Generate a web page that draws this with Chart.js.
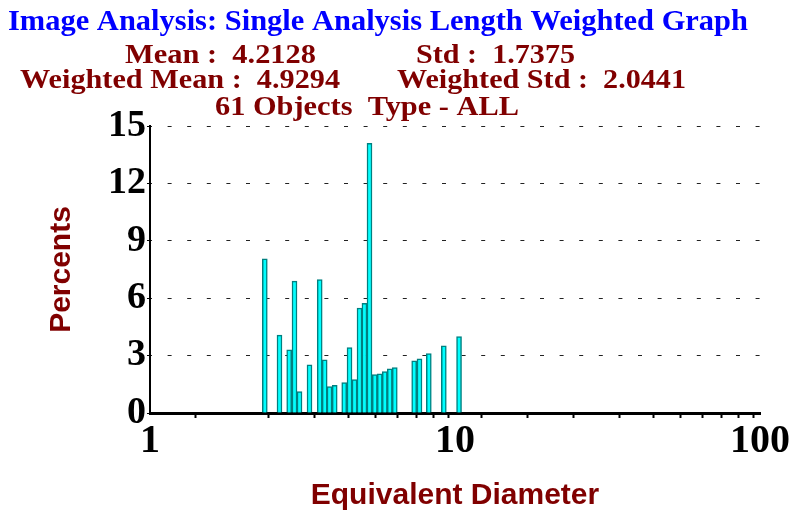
<!DOCTYPE html>
<html>
<head>
<meta charset="utf-8">
<script src="https://cdn.jsdelivr.net/npm/chart.js@4"></script>
<style>
  html, body { margin: 0; padding: 0; background: #fff; }
  canvas { display: block; }
</style>
</head>
<body>
<canvas id="chart" width="793" height="512"></canvas>
<script>
// Bin centres (equivalent diameter) and percent of total length
const diameters = [2.379, 2.658, 2.860, 2.977, 3.092, 3.334, 3.601, 3.739, 3.878, 4.033,
                   4.333, 4.510, 4.684, 4.863, 5.047, 5.244, 5.458, 5.668, 5.886, 6.112,
                   6.347, 7.348, 7.649, 8.206, 9.191, 10.31];
const percents = [8.06, 4.07, 3.30, 6.89, 1.12, 2.52, 6.97, 2.78, 1.38, 1.45,
                  1.59, 3.42, 1.75, 5.49, 5.73, 14.09, 2.01, 2.05, 2.17, 2.31,
                  2.38, 2.73, 2.83, 3.11, 3.51, 3.99];
const xLabels = [1, 10, 100];
const yTicks = [0, 3, 6, 9, 12, 15];

const titleText = 'Image Analysis: Single Analysis Length Weighted Graph';
const statLines = [
  ['Mean :  4.2128', 'Std :  1.7375'],
  ['Weighted Mean :  4.9294', 'Weighted Std :  2.0441'],
  ['61 Objects  Type - ALL']
];

// header text, squeezed to the widths seen in the original
const headerPlugin = {
  id: 'header',
  beforeDraw(chart) {
    const ctx = chart.ctx;
    ctx.save();
    ctx.fillStyle = '#fff';
    ctx.fillRect(0, 0, chart.width, chart.height);
    ctx.restore();
  },
  afterDraw(chart) {
    const ctx = chart.ctx;
    const pieces = [
      [titleText, 8, 748, 30, 29, '#0000ff'],
      [statLines[0][0], 125, 316, 63, 28, '#800000'],
      [statLines[0][1], 416, 575, 63, 28, '#800000'],
      [statLines[1][0], 20, 340, 88, 28, '#800000'],
      [statLines[1][1], 397, 686, 88, 28, '#800000'],
      [statLines[2][0], 215, 519, 115, 28, '#800000']
    ];
    pieces.forEach(([text, x0, x1, base, size, color]) => {
      ctx.save();
      ctx.font = 'bold ' + size + 'px "Liberation Serif", "Times New Roman", serif';
      ctx.fillStyle = color;
      ctx.textBaseline = 'alphabetic';
      ctx.textAlign = 'left';
      const w = ctx.measureText(text).width;
      ctx.translate(x0, base);
      ctx.scale((x1 - x0) / w, 1);
      ctx.fillText(text, 0, 0);
      ctx.restore();
    });
  }
};

new Chart(document.getElementById('chart').getContext('2d'), {
  type: 'bar',
  data: {
    datasets: [{
      data: diameters.map((d, i) => ({ x: d, y: percents[i] })),
      backgroundColor: '#00ffff',
      borderColor: '#008080',
      borderWidth: 1.5,
      barThickness: 5
    }]
  },
  options: {
    responsive: false,
    animation: false,
    layout: { padding: { top: 126, right: 33, left: 0, bottom: 0 } },
    plugins: { legend: { display: false }, tooltip: { enabled: false } },
    scales: {
      x: {
        type: 'logarithmic',
        min: 1,
        max: 100,
        afterFit(scale) { scale.height = 99; },
        border: { color: '#000', width: 3 },
        grid: { drawOnChartArea: false, drawTicks: true, tickLength: 5, tickWidth: 2, tickColor: '#000' },
        ticks: {
          autoSkip: false,
          maxRotation: 0,
          padding: 0,
          color: '#000',
          font: { family: '"Liberation Serif", "Times New Roman", serif', weight: 'bold', size: 40 },
          callback: v => xLabels.includes(v) ? String(v) : ''
        },
        title: {
          display: true,
          text: 'Equivalent Diameter',
          color: '#800000',
          padding: { top: 0, bottom: 0 },
          font: { family: '"Liberation Sans", Arial, sans-serif', weight: 'bold', size: 30, lineHeight: 1.1 }
        }
      },
      y: {
        min: 0,
        max: 15,
        afterFit(scale) { scale.width = 150; },
        afterBuildTicks(scale) { scale.ticks = yTicks.map(v => ({ value: v })); },
        border: { color: '#000', width: 2, dash: [4, 15.6], dashOffset: 3 },
        grid: {
          color: ctx => ctx.tick && ctx.tick.value === 0 ? 'rgba(0,0,0,0)' : '#222',
          lineWidth: 1,
          drawTicks: true,
          tickLength: 3,
          tickColor: '#000'
        },
        ticks: {
          padding: 1,
          color: '#000',
          font: { family: '"Liberation Serif", "Times New Roman", serif', weight: 'bold', size: 38 }
        },
        title: {
          display: true,
          text: 'Percents',
          color: '#800000',
          padding: { top: 44, bottom: 0 },
          font: { family: '"Liberation Sans", Arial, sans-serif', weight: 'bold', size: 30 }
        }
      }
    }
  },
  plugins: [headerPlugin]
});
</script>
</body>
</html>
